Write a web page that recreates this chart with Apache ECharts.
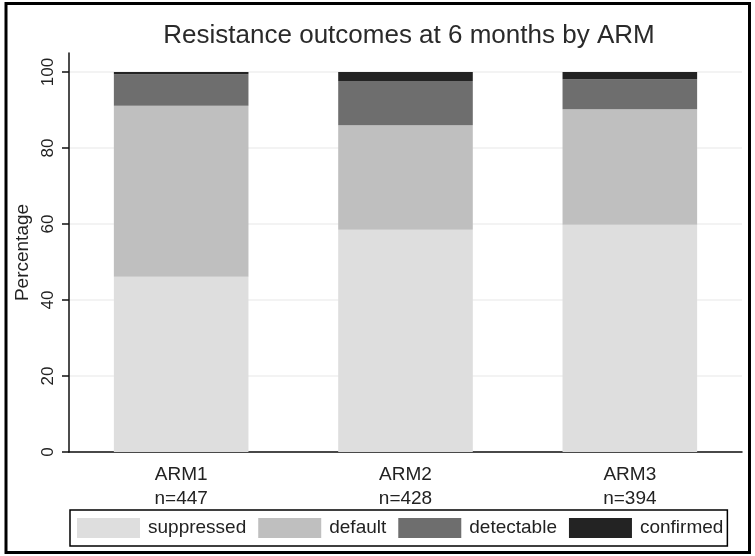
<!DOCTYPE html>
<html>
<head>
<meta charset="utf-8">
<script src="https://cdn.jsdelivr.net/npm/echarts@6/dist/echarts.min.js"></script>
<style>
  html, body { margin: 0; padding: 0; background: #fff; }
  #chart { width: 755px; height: 556px; }
</style>
</head>
<body>
<div id="chart"></div>
<script>
// data
var arms = ['ARM1', 'ARM2', 'ARM3'];
var counts = [447, 428, 394];
var suppressed = [46.1, 58.5, 59.8];
var defaulted = [45.0, 27.5, 30.4];
var detectable = [8.3, 11.6, 7.9];
var confirmed = [0.6, 2.4, 1.9];
var yTicks = [0, 20, 40, 60, 80, 100];

var font = 'Liberation Sans, Arial, sans-serif';

var categories = arms.map(function (a, i) {
    return a + '\nn=' + counts[i];
});

function bar(name, data, color) {
    return {
        name: name,
        type: 'bar',
        stack: 'total',
        barWidth: '60%',
        data: data,
        itemStyle: { color: color },
        emphasis: { disabled: true }
    };
}

var option = {
    animation: false,
    textStyle: { fontFamily: font },
    title: {
        text: 'Resistance outcomes at 6 months by ARM',
        left: 404,
        textAlign: 'center',
        top: 18,
        textStyle: { fontFamily: font, fontSize: 26, fontWeight: 'normal', color: '#2a2a2a' }
    },
    grid: { left: 69, right: 13, top: 53, bottom: 104 },
    legend: {
        left: 70,
        top: 510,
        padding: [8, 4, 8, 7],
        itemWidth: 63,
        itemHeight: 20,
        itemGap: 12,
        borderColor: '#000',
        borderWidth: 1.5,
        borderRadius: 0,
        icon: 'rect',
        textStyle: { fontFamily: font, fontSize: 19, color: '#222', padding: [0, 0, 0, 3] },
        data: ['suppressed', 'default', 'detectable', 'confirmed']
    },
    xAxis: {
        type: 'category',
        data: categories,
        axisLine: { lineStyle: { color: '#111', width: 1.5 } },
        axisTick: { show: false },
        axisLabel: { fontFamily: font, fontSize: 19, color: '#222', lineHeight: 24, margin: 11 }
    },
    yAxis: {
        type: 'value',
        min: 0,
        max: 105,
        interval: 20,
        name: 'Percentage',
        nameLocation: 'middle',
        nameGap: 37,
        nameTextStyle: { fontFamily: font, fontSize: 19, color: '#222' },
        axisLine: { show: true, lineStyle: { color: '#111', width: 1.5 } },
        axisTick: { show: true, length: 7, customValues: yTicks, lineStyle: { color: '#111', width: 1.5 } },
        axisLabel: { rotate: 90, fontFamily: font, fontSize: 17, color: '#222', margin: 12, customValues: yTicks },
        splitLine: { show: true, lineStyle: { color: '#efefef', width: 1.5 } }
    },
    series: [
        bar('suppressed', suppressed, '#dedede'),
        bar('default', defaulted, '#bfbfbf'),
        bar('detectable', detectable, '#6e6e6e'),
        bar('confirmed', confirmed, '#232323')
    ],
    graphic: [{
        type: 'rect',
        shape: { x: 6, y: 3.5, width: 743.5, height: 549 },
        style: { fill: 'none', stroke: '#000', lineWidth: 3 },
        silent: true
    }]
};

var chart = echarts.init(document.getElementById('chart'));
chart.setOption(option);
</script>
</body>
</html>
